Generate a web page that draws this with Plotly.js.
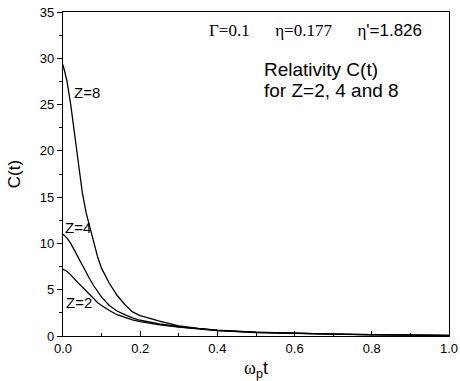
<!DOCTYPE html>
<html>
<head>
<meta charset="utf-8">
<script src="https://cdn.plot.ly/plotly-3.0.1.min.js"></script>
<style>html,body{margin:0;padding:0;background:#fff;}#chart{width:460px;height:381px;}</style>
</head>
<body>
<div id="chart"></div>
<script>
// time axis ω_p t
const t = [0, 0.01, 0.02, 0.03, 0.04, 0.05, 0.06, 0.07, 0.08, 0.09, 0.10, 0.12, 0.14, 0.16, 0.18, 0.20, 0.25, 0.30, 0.35, 0.40, 0.50, 0.60, 0.70, 0.80, 0.90, 1.00];
// C(t) for Z=8
const cZ8 = [29.3, 27.6, 25.0, 21.8, 18.5, 15.5, 13.3, 11.6, 10.0, 8.5, 7.3, 5.7, 4.4, 3.4, 2.6, 2.2, 1.6, 1.08, 0.82, 0.62, 0.42, 0.29, 0.2, 0.14, 0.1, 0.06];
// C(t) for Z=4
const cZ4 = [11.0, 10.6, 10.0, 9.2, 8.5, 7.7, 6.9, 6.1, 5.4, 4.8, 4.2, 3.3, 2.7, 2.3, 1.95, 1.7, 1.3, 1.0, 0.8, 0.6, 0.4, 0.28, 0.2, 0.14, 0.1, 0.06];
// C(t) for Z=2
const cZ2 = [7.2, 7.0, 6.6, 6.1, 5.7, 5.3, 4.85, 4.4, 4.0, 3.6, 3.3, 2.75, 2.3, 2.0, 1.75, 1.55, 1.2, 0.95, 0.75, 0.58, 0.38, 0.27, 0.19, 0.13, 0.09, 0.05];
const seriesNames = ['Z=2', 'Z=4', 'Z=8'];
const xTickVals = [0, 0.2, 0.4, 0.6, 0.8, 1.0];
const xTickText = ['0.0', '0.2', '0.4', '0.6', '0.8', '1.0'];
const yTickVals = [0, 5, 10, 15, 20, 25, 30, 35];

const line = {color: '#000', width: 1.3};
const traces = [cZ2, cZ4, cZ8].map((y, i) => ({
  x: t, y: y, type: 'scatter', mode: 'lines', line: line, name: seriesNames[i], hoverinfo: 'none'
}));

const sans = 'Liberation Sans, Arial, sans-serif';
const serif = 'Times New Roman, Liberation Serif, serif';
const nb = '\u00A0';
const gap = nb + nb + nb + nb + nb + nb;

const layout = {
  width: 460, height: 381,
  margin: {l: 63, r: 11, t: 12, b: 45},
  paper_bgcolor: '#fff', plot_bgcolor: '#fff',
  showlegend: false,
  font: {family: sans, color: '#000', size: 13},
  xaxis: {
    range: [0, 1.0], tickvals: xTickVals, ticktext: xTickText,
    ticks: 'inside', ticklen: 5, tickwidth: 1, tickcolor: '#000',
    minor: {dtick: 0.1, tick0: 0, ticks: 'inside', ticklen: 3, tickcolor: '#000'},
    showline: true, mirror: true, linecolor: '#000', linewidth: 1.2,
    showgrid: false, zeroline: false,
    tickfont: {family: sans, size: 13, color: '#000'},
    title: {text: 'ω<span style="font-family:sans-serif"><sub>p</sub>t</span>', font: {family: serif, size: 18, color: '#000'}, standoff: 6}
  },
  yaxis: {
    range: [0, 35], tickvals: yTickVals,
    ticks: 'outside', ticklen: 5, tickwidth: 1, tickcolor: '#000',
    minor: {dtick: 2.5, tick0: 0, ticks: 'outside', ticklen: 3, tickcolor: '#000'},
    showline: true, mirror: true, linecolor: '#000', linewidth: 1.2,
    showgrid: false, zeroline: false,
    tickfont: {family: sans, size: 13, color: '#000'},
    title: {text: 'C(t)', font: {family: sans, size: 17, color: '#000'}, standoff: 14}
  },
  annotations: [
    {x: 0.655, y: 33.0, xref: 'x', yref: 'y', showarrow: false, xanchor: 'center', yanchor: 'middle',
     text: 'Γ=0.1' + gap + 'η=0.177' + gap + 'η<span style="font-family:sans-serif">\'=1.826</span>',
     font: {family: serif, size: 17, color: '#000'}},
    {x: 0.516, y: 28.8, xref: 'x', yref: 'y', showarrow: false, xanchor: 'left', yanchor: 'middle',
     text: 'Relativity C(t)', font: {family: sans, size: 19, color: '#000'}},
    {x: 0.516, y: 26.5, xref: 'x', yref: 'y', showarrow: false, xanchor: 'left', yanchor: 'middle',
     text: 'for Z=2, 4 and 8', font: {family: sans, size: 19, color: '#000'}},
    {x: 0.024, y: 26.35, xref: 'x', yref: 'y', showarrow: false, xanchor: 'left', yanchor: 'middle',
     text: 'Z=8', font: {family: sans, size: 15, color: '#000'}},
    {x: 0.001, y: 11.7, xref: 'x', yref: 'y', showarrow: false, xanchor: 'left', yanchor: 'middle',
     text: 'Z=4', font: {family: sans, size: 15, color: '#000'}},
    {x: 0.003, y: 3.6, xref: 'x', yref: 'y', showarrow: false, xanchor: 'left', yanchor: 'middle',
     text: 'Z=2', font: {family: sans, size: 15, color: '#000'}}
  ]
};

Plotly.newPlot('chart', traces, layout, {staticPlot: true, displayModeBar: false});
</script>
</body>
</html>
